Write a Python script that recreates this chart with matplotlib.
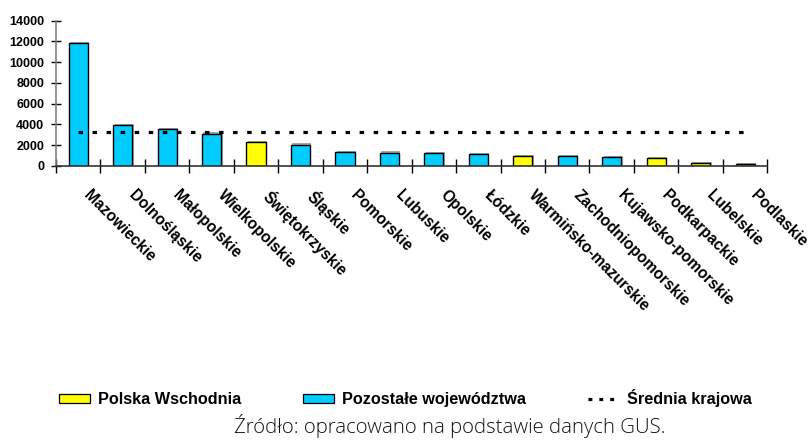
import matplotlib
matplotlib.use("Agg")
import matplotlib.pyplot as plt
from matplotlib.patches import Patch
from matplotlib.lines import Line2D
from matplotlib.transforms import ScaledTranslation
import matplotlib.patheffects as pe
import numpy as np

categories = ["Mazowieckie", "Dolnośląskie", "Małopolskie", "Wielkopolskie",
              "Świętokrzyskie", "Śląskie", "Pomorskie", "Lubuskie", "Opolskie",
              "Łódzkie", "Warmińsko-mazurskie", "Zachodniopomorskie",
              "Kujawsko-pomorskie", "Podkarpackie", "Lubelskie", "Podlaskie"]
values = [11850, 3950, 3530, 3110, 2290, 2060, 1350, 1290, 1220, 1120,
          960, 960, 840, 740, 260, 160]
eastern = [False, False, False, False, True, False, False, False, False, False,
           True, False, False, True, True, True]
national_average = 3250
yticks = [0, 2000, 4000, 6000, 8000, 10000, 12000, 14000]

legend_labels = ["Polska Wschodnia", "Pozostałe województwa", "Średnia krajowa"]
source_text = "Źródło: opracowano na podstawie danych GUS."

YELLOW = "#FFFF00"
CYAN = "#00CCFF"

plt.rcParams["font.family"] = ["Liberation Sans", "DejaVu Sans"]

fig = plt.figure(figsize=(8.09, 4.41), dpi=100)
ax = fig.add_axes([56 / 809, 1 - 166 / 441, (767.3 - 56) / 809, (166 - 20.7) / 441])

x = np.arange(len(categories))
colors = [YELLOW if e else CYAN for e in eastern]
bars = ax.bar(x, values, width=0.43, color=colors, edgecolor="black", linewidth=1.0,
              zorder=2)
for b in bars:
    b.set_path_effects([pe.SimplePatchShadow(offset=(1, 1), shadow_rgbFace="#808080",
                                             alpha=0.7), pe.Normal()])

ax.plot(x, [national_average] * len(x), color="black", linewidth=2.3,
        linestyle=(0, (1.4, 3.0)), dash_capstyle="butt", zorder=3)

ax.set_xlim(-0.5, len(categories) - 0.5)
ax.set_ylim(0, 14000)
ax.set_yticks(yticks)
ax.set_yticklabels([str(v) for v in yticks], fontsize=9, fontweight="bold")

ax.set_xticks(x)
ax.set_xticklabels(categories, rotation=-45, ha="left", va="top", fontsize=11.2,
                   fontweight="bold")
ax.set_xticks(np.arange(-0.5, len(categories)), minor=True)
ax.tick_params(axis="x", which="major", length=0, pad=15.5)
ax.tick_params(axis="x", which="minor", length=10.5, direction="inout", width=1,
               color="black")
ax.tick_params(axis="y", which="major", length=7, direction="inout", width=1,
               color="black", pad=5)
for lbl in ax.get_xticklabels():
    lbl.set_transform(lbl.get_transform() + ScaledTranslation(3 / 100, 0, fig.dpi_scale_trans))

for s in ["top", "right"]:
    ax.spines[s].set_visible(False)
ax.spines["left"].set_color("#808080")
ax.spines["left"].set_linewidth(1.2)
ax.spines["bottom"].set_color("#333333")
ax.spines["bottom"].set_linewidth(1.2)

handles = [Patch(facecolor=YELLOW, edgecolor="black", linewidth=0.9),
           Patch(facecolor=CYAN, edgecolor="black", linewidth=0.9),
           Line2D([0], [0], color="black", linewidth=2.3, linestyle=(0, (1.2, 2.2)),
                  dash_capstyle="butt")]
fig.legend(handles, legend_labels, loc="center left",
           bbox_to_anchor=(59 / 809, 1 - 398 / 441), ncol=3, frameon=False,
           borderpad=0, borderaxespad=0, handlelength=1.9, handleheight=0.5,
           handletextpad=0.5, columnspacing=3.8,
           prop={"family": "Liberation Sans", "weight": "bold", "size": 11.7})

fig.text(449.5 / 809, 1 - 426 / 441, source_text, ha="center", va="center",
         fontsize=14.7, family=["Open Sans", "DejaVu Sans"], fontweight="light",
         color="#111111")

fig.savefig("out.png", dpi=100)
